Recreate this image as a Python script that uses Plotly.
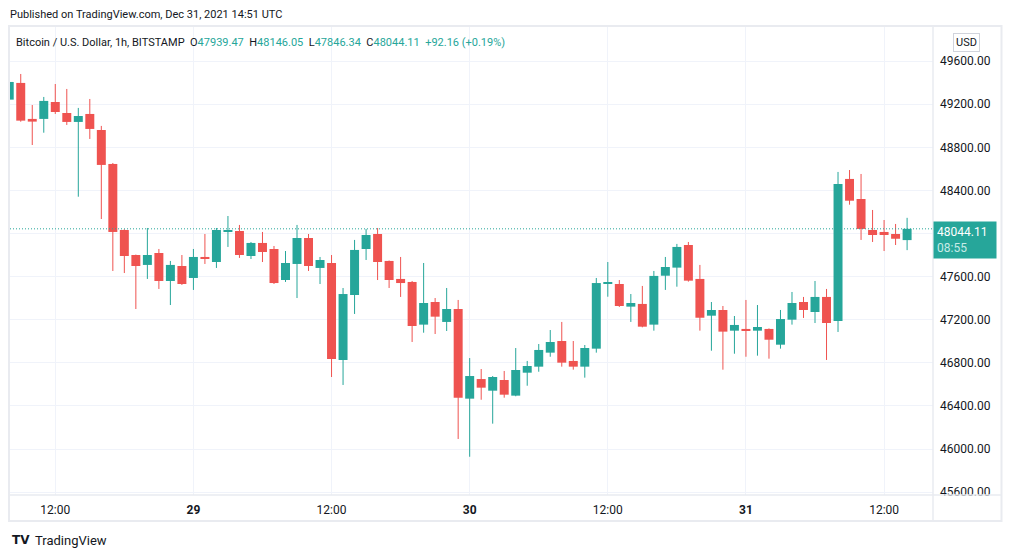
import plotly.graph_objects as go
import pandas as pd

# ---------------- data (BTC/USD, 1h, BITSTAMP) ----------------
start_time = "2021-12-28 08:00"
opens = [49243, 49398, 49064, 49064, 49221, 49119, 49036, 49110, 48961, 48646,
         48033, 47801, 47709, 47820, 47560, 47699, 47588, 47783, 47736, 48018,
         48024, 47792, 47913, 47857, 47569, 47718, 47959, 47681, 47727, 46827,
         47430, 47857, 47996, 47746, 47579, 47551, 47155, 47365, 47180, 47300,
         46468, 46650, 46542, 46641, 46496, 46709, 46765, 46895, 47003, 46818,
         46765, 46932, 47536, 47532, 47322, 47347, 47155, 47609, 47684, 47894,
         47579, 47238, 47291, 47099, 47115, 47099, 47115, 46969, 47201, 47365,
         47272, 47412, 47189, 48507, 48321, 48033, 48015, 47996, 47939.47]
highs = [49420, 49481, 49193, 49268, 49388, 49342, 49166, 49249, 48999, 48655,
         48040, 47805, 48052, 47857, 47746, 47801, 47857, 47996, 48052, 48163,
         48080, 47922, 48015, 47885, 47838, 48080, 47996, 47783, 47801, 47495,
         47941, 48043, 48052, 47750, 47783, 47560, 47727, 47402, 47495, 47384,
         46845, 46743, 46678, 46725, 46938, 46818, 46975, 47105, 47180, 47003,
         46966, 47588, 47736, 47569, 47439, 47514, 47653, 47783, 47904, 47922,
         47709, 47365, 47328, 47235, 47384, 47337, 47120, 47291, 47458, 47412,
         47560, 47486, 48572, 48590, 48553, 48219, 48126, 48089, 48146.05]
lows = [49230, 49038, 48822, 48936, 49110, 49008, 48342, 48878, 48135, 47653,
        47634, 47300, 47579, 47486, 47337, 47523, 47477, 47718, 47681, 47876,
        47774, 47764, 47736, 47532, 47551, 47402, 47653, 47532, 46669, 46595,
        47254, 47755, 47569, 47495, 47412, 46994, 47080, 47068, 47096, 46094,
        45929, 46458, 46236, 46477, 46490, 46588, 46718, 46857, 46765, 46737,
        46663, 46895, 47414, 47319, 47180, 47130, 47099, 47477, 47507, 47554,
        47099, 46913, 46737, 46885, 46857, 46867, 46839, 46932, 47155, 47217,
        47170, 46827, 47087, 48268, 47941, 47922, 47838, 47894, 47846.34]
closes = [49407, 49048, 49039, 49231, 49128, 49036, 49091, 48971, 48637, 48015,
          47792, 47699, 47801, 47560, 47709, 47532, 47783, 47764, 48033, 48025,
          47801, 47913, 47829, 47541, 47727, 47959, 47699, 47755, 46836, 47439,
          47848, 47987, 47736, 47569, 47541, 47142, 47356, 47229, 47300, 46477,
          46678, 46570, 46669, 46505, 46734, 46771, 46920, 46994, 46802, 46765,
          46938, 47541, 47545, 47328, 47356, 47136, 47607, 47690, 47876, 47563,
          47219, 47291, 47090, 47152, 47099, 47133, 47015, 47207, 47356, 47291,
          47412, 47170, 48460, 48305, 48043, 47987, 47987, 47951.95, 48044.11]

price_ticks = [45600, 46000, 46400, 46800, 47200, 47600, 48000, 48400, 48800, 49200, 49600]
time_ticks = ["2021-12-28 12:00", "2021-12-29 00:00", "2021-12-29 12:00", "2021-12-30 00:00",
              "2021-12-30 12:00", "2021-12-31 00:00", "2021-12-31 12:00"]
time_tick_labels = ["12:00", "<b>29</b>", "12:00", "<b>30</b>", "12:00", "<b>31</b>", "12:00"]
countdown = "08:55"

# ---------------- style ----------------
UP = "#26a69a"
DOWN = "#ef5350"
TXT = "#131722"
GRID = "#f0f3fa"
FRAME = "#e9ebf0"
FONT = "Roboto"

W, H = 1012, 558
L, R, T, B = 10, 79, 27, 63
PW, PH = W - L - R, H - T - B


def px_x(px):
    return (px - L) / PW


def px_y(py):
    return (H - B - py) / PH


times = pd.date_range(start_time, periods=len(opens), freq="h")
body_w = 0.78 * 3600 * 1000  # ms
min_body = 9

fig = go.Figure()

for color, is_up in ((UP, True), (DOWN, False)):
    xs, base, hgt, wx, wy = [], [], [], [], []
    for t, o, h, l, c in zip(times, opens, highs, lows, closes):
        if (c >= o) != is_up:
            continue
        lo, hi = min(o, c), max(o, c)
        if hi - lo < min_body:
            mid = (hi + lo) / 2
            lo, hi = mid - min_body / 2, mid + min_body / 2
        xs.append(t)
        base.append(lo)
        hgt.append(hi - lo)
        wx += [t, t, None]
        wy += [l, h, None]
    fig.add_trace(go.Scatter(x=wx, y=wy, mode="lines", line=dict(color=color, width=1),
                             hoverinfo="skip", showlegend=False))
    fig.add_trace(go.Bar(x=xs, y=hgt, base=base, width=body_w, marker=dict(color=color, line=dict(width=0)),
                         showlegend=False, hoverinfo="skip"))

last_o, last_h, last_l, last_c = opens[-1], highs[-1], lows[-1], closes[-1]
prev_c = closes[-2]
chg = last_c - prev_c
chg_pct = chg / prev_c * 100

# the last-price badge covers the nearest price label
price_labels = ["" if abs(v - last_c) < 150 else f"{v:.2f}" for v in price_ticks]

fig.update_layout(
    width=W, height=H, autosize=False,
    margin=dict(l=L, r=R, t=T, b=B),
    paper_bgcolor="white", plot_bgcolor="white",
    barmode="overlay", showlegend=False,
    font=dict(family=FONT, size=12, color=TXT),
    xaxis=dict(
        type="date",
        range=["2021-12-28 08:04", "2021-12-31 16:15"],
        tickvals=time_ticks, ticktext=time_tick_labels,
        showgrid=True, gridcolor=GRID, gridwidth=1,
        zeroline=False, showline=False, ticks="",
        tickfont=dict(family=FONT, size=12, color=TXT),
        ticklabelstandoff=6,
        fixedrange=True,
    ),
    yaxis=dict(
        side="right",
        range=[45574, 49917],
        tickvals=price_ticks, ticktext=price_labels,
        showgrid=True, gridcolor=GRID, gridwidth=1,
        zeroline=False, showline=False, ticks="",
        tickfont=dict(family=FONT, size=12, color=TXT),
        ticklabelstandoff=6,
        fixedrange=True,
    ),
)

shapes = [
    # outer frame
    dict(type="rect", xref="paper", yref="paper", x0=px_x(9), x1=px_x(1001.5), y0=px_y(521), y1=px_y(26),
         line=dict(color=FRAME, width=2), fillcolor="rgba(0,0,0,0)", layer="above"),
    # time-axis separator
    dict(type="line", xref="paper", yref="paper", x0=px_x(10), x1=px_x(1001), y0=px_y(495), y1=px_y(495),
         line=dict(color=FRAME, width=1.5), layer="above"),
    # price-axis separator
    dict(type="line", xref="paper", yref="paper", x0=1, x1=1, y0=px_y(521), y1=px_y(26),
         line=dict(color=FRAME, width=1.5), layer="above"),
    # last price dotted line
    dict(type="line", xref="paper", yref="y", x0=0, x1=1, y0=last_c, y1=last_c,
         line=dict(color=UP, width=1, dash="1px,2px"), layer="above"),
]
fig.update_layout(shapes=shapes)

val = lambda v: f"<span style='color:{UP}'>{v:.2f}</span>"
sp = "\u00a0\u00a0"
legend_text = (f"Bitcoin / U.S. Dollar, 1h, BITSTAMP{sp}O{val(last_o)}{sp}H{val(last_h)}{sp}"
               f"L{val(last_l)}{sp}C{val(last_c)}{sp}"
               f"<span style='color:{UP}'>{chg:+.2f} ({chg_pct:+.2f}%)</span>")

annotations = [
    dict(text="Published on TradingView.com, Dec 31, 2021 14:51 UTC", xref="paper", yref="paper",
         x=px_x(8), y=px_y(14), xanchor="left", yanchor="middle", showarrow=False,
         font=dict(family=FONT, size=11, color=TXT)),
    dict(text=legend_text, xref="paper", yref="paper",
         x=px_x(14), y=px_y(42), xanchor="left", yanchor="middle", showarrow=False,
         font=dict(family=FONT, size=11, color=TXT)),
    dict(text="USD", xref="paper", yref="paper",
         x=px_x(966.5), y=px_y(42.5), xanchor="center", yanchor="middle", showarrow=False,
         bordercolor="#d1d4dc", borderwidth=1, borderpad=2, bgcolor="white",
         font=dict(family=FONT, size=11, color=TXT)),
    dict(text=f"{last_c:.2f}<br><span style='color:#c8ebe7'>{countdown}</span>", xref="paper", yref="y",
         x=1, y=last_c, xanchor="left", yanchor="top", yshift=8, showarrow=False,
         align="left", width=56, bgcolor=UP, borderpad=3,
         font=dict(family=FONT, size=12, color="white")),
    dict(text="<b>TV</b>", xref="paper", yref="paper",
         x=px_x(10), y=px_y(540), xanchor="left", yanchor="middle", showarrow=False,
         font=dict(family="DejaVu Sans", size=12, color=TXT)),
    dict(text="TradingView", xref="paper", yref="paper",
         x=px_x(33), y=px_y(540), xanchor="left", yanchor="middle", showarrow=False,
         font=dict(family=FONT, size=13, color=TXT)),
]
fig.update_layout(annotations=annotations)

fig.write_html("out.html", config=dict(displayModeBar=False),
               post_script="document.body.style.margin='0';document.body.style.overflow='hidden';")
